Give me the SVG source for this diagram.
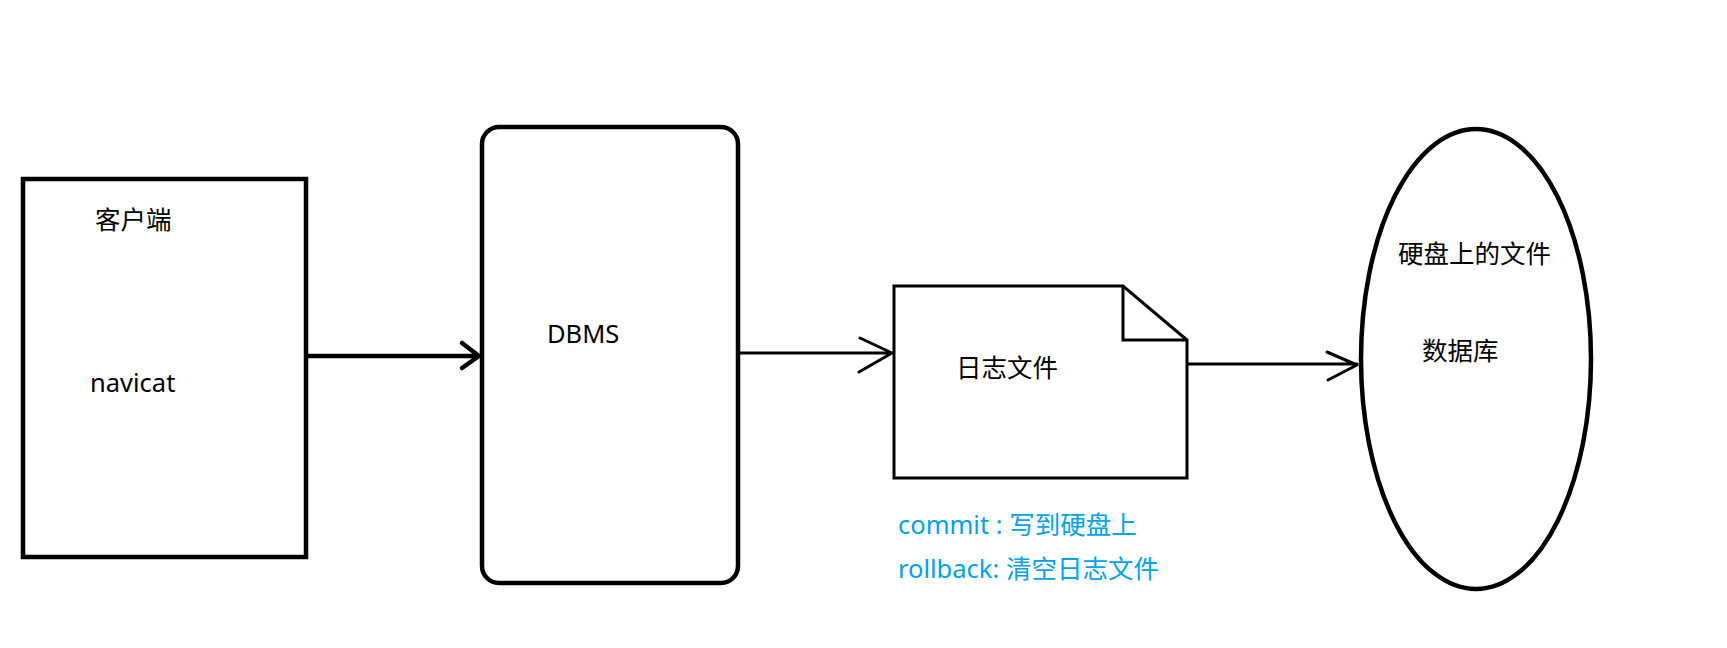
<svg xmlns="http://www.w3.org/2000/svg" width="1727" height="648" viewBox="0 0 1727 648">
<style>
.shape{fill:#fff;stroke:#000;stroke-width:4.5}
.thin{fill:none;stroke:#000;stroke-width:3}
.t{font-family:"Noto Sans","Noto Sans CJK SC",sans-serif;font-size:25.5px;fill:#000}
.b{font-family:"Noto Sans","Noto Sans CJK SC",sans-serif;font-size:25.5px;fill:#00A2E8}
.con{fill:none;stroke:#000;stroke-linecap:round;stroke-linejoin:round}
</style>
<rect width="1727" height="648" fill="#fff"/>
<g id="client">
<rect class="shape" x="23" y="179" width="283" height="378"/>
<text class="t" x="95" y="229">客户端</text>
<text class="t" x="90" y="392">navicat</text>
</g>
<g id="dbms">
<rect class="shape" x="482" y="127" width="256" height="456" rx="17" ry="17"/>
<text class="t" x="547" y="343">DBMS</text>
</g>
<g id="logfile">
<path class="thin" d="M894 286 H1123 L1187 340 V478 H894 Z" fill="#fff"/>
<path class="thin" d="M1123 286 V340 H1187"/>
<text class="t" x="956" y="377">日志文件</text>
</g>
<g id="database">
<ellipse class="shape" cx="1476" cy="359" rx="115" ry="230"/>
<text class="t" x="1398" y="263">硬盘上的文件</text>
<text class="t" x="1422" y="360">数据库</text>
</g>
<g id="notes">
<text class="b" x="898" y="534">commit : 写到硬盘上</text>
<text class="b" x="898" y="578">rollback: 清空日志文件</text>
</g>
<g id="connectors">
<path class="con" stroke-width="4.5" d="M308 356 H479 M462 343 L479 356 L462 368"/>
<path class="con" stroke-width="3" d="M740 353 H892 M860 338 L892 353 L859 372"/>
<path class="con" stroke-width="3" d="M1188 364 H1357 M1327 352 L1357 365 L1328 380"/>
</g>
</svg>
